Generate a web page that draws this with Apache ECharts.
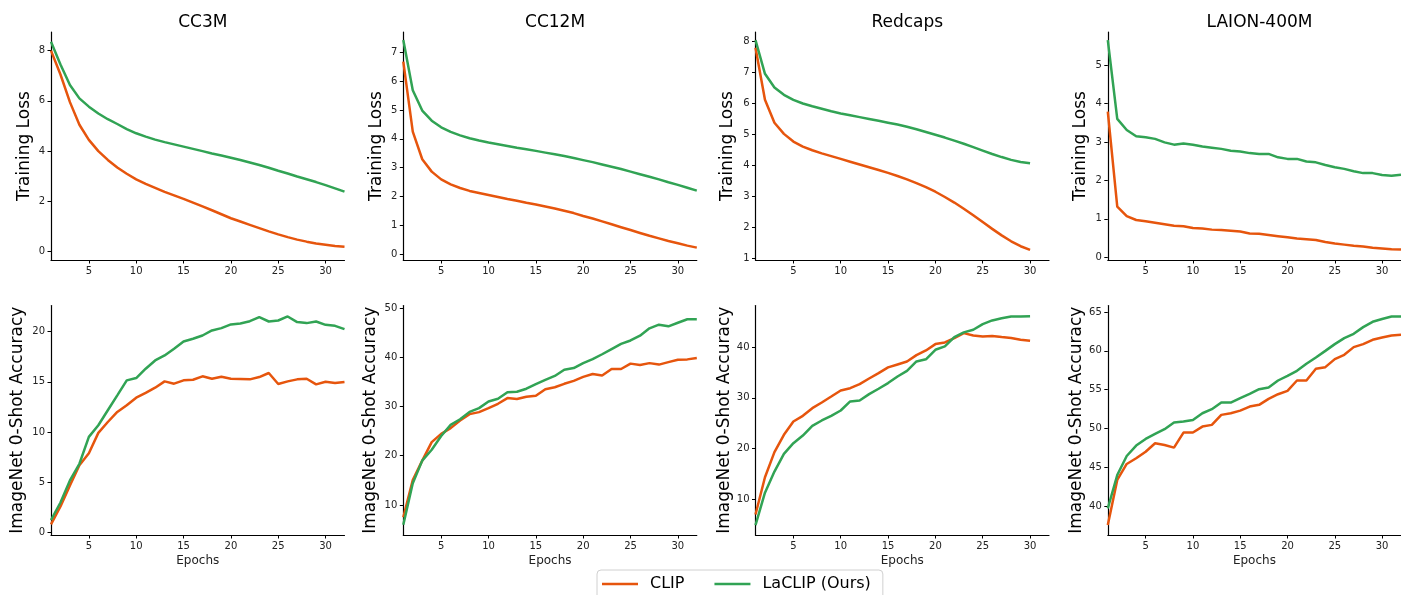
<!DOCTYPE html>
<html>
<head>
<meta charset="utf-8">
<script src="https://cdn.jsdelivr.net/npm/echarts@6/dist/echarts.min.js"></script>
<style>
html,body{margin:0;padding:0;background:#fff;}
#c{width:1401px;height:595px;}
</style>
</head>
<body>
<div id="c"></div>
<script>
const epochs = [1,2,3,4,5,6,7,8,9,10,11,12,13,14,15,16,17,18,19,20,21,22,23,24,25,26,27,28,29,30,31,32];
const titles = ['CC3M', 'CC12M', 'Redcaps', 'LAION-400M'];
const seriesNames = ['CLIP', 'LaCLIP (Ours)'];

// Training loss
const lossClipCC3M = [8.0,7.05,5.95,5.05,4.45,4.0,3.65,3.35,3.1,2.88,2.7,2.54,2.38,2.24,2.1,1.95,1.8,1.65,1.49,1.33,1.2,1.07,0.94,0.81,0.69,0.58,0.48,0.4,0.33,0.28,0.23,0.2];
const lossLaclipCC3M = [8.35,7.45,6.63,6.1,5.77,5.5,5.27,5.08,4.88,4.71,4.58,4.46,4.36,4.27,4.18,4.09,4.0,3.91,3.83,3.74,3.65,3.55,3.45,3.34,3.22,3.11,2.99,2.88,2.77,2.65,2.52,2.39];
const lossClipCC12M = [6.68,4.25,3.29,2.86,2.59,2.42,2.29,2.19,2.12,2.05,1.98,1.91,1.85,1.78,1.72,1.65,1.58,1.5,1.42,1.32,1.23,1.13,1.03,0.93,0.83,0.73,0.63,0.54,0.45,0.37,0.29,0.22];
const lossLaclipCC12M = [7.43,5.69,4.98,4.63,4.4,4.24,4.12,4.02,3.94,3.87,3.81,3.75,3.69,3.64,3.58,3.52,3.46,3.4,3.33,3.26,3.19,3.11,3.03,2.95,2.86,2.77,2.68,2.59,2.49,2.4,2.3,2.2];
const lossClipRedcaps = [7.8,6.12,5.38,5.02,4.77,4.61,4.49,4.39,4.3,4.21,4.12,4.03,3.94,3.85,3.76,3.66,3.55,3.43,3.3,3.15,2.98,2.8,2.6,2.39,2.17,1.95,1.74,1.55,1.39,1.27];
const lossLaclipRedcaps = [8.05,6.96,6.52,6.28,6.12,6.0,5.91,5.83,5.75,5.68,5.62,5.56,5.5,5.44,5.38,5.32,5.25,5.17,5.08,4.99,4.9,4.8,4.7,4.59,4.48,4.37,4.27,4.18,4.11,4.07];
const lossClipLaion = [3.79,1.32,1.07,0.97,0.94,0.9,0.86,0.82,0.81,0.76,0.75,0.72,0.71,0.69,0.67,0.62,0.61,0.58,0.55,0.52,0.49,0.47,0.45,0.4,0.36,0.33,0.3,0.28,0.25,0.23,0.21,0.2];
const lossLaclipLaion = [5.65,3.6,3.31,3.15,3.12,3.08,2.99,2.93,2.96,2.93,2.88,2.85,2.82,2.77,2.75,2.71,2.69,2.69,2.6,2.56,2.56,2.49,2.47,2.4,2.34,2.3,2.24,2.19,2.19,2.14,2.12,2.15];

// ImageNet 0-shot accuracy
const accClipCC3M = [0.83,2.6,4.7,6.7,7.9,9.92,11.0,12.0,12.66,13.42,13.9,14.41,15.04,14.81,15.14,15.2,15.54,15.3,15.5,15.3,15.27,15.24,15.47,15.87,14.78,15.04,15.24,15.3,14.74,15.0,14.88,14.98];
const accLaclipCC3M = [1.26,3.0,5.2,6.85,9.52,10.68,12.17,13.65,15.14,15.37,16.3,17.12,17.62,18.28,19.0,19.27,19.6,20.1,20.33,20.7,20.8,21.02,21.42,20.99,21.09,21.49,20.93,20.83,20.99,20.66,20.56,20.23];
const accClipCC12M = [7.5,15.08,19.0,22.75,24.44,25.6,27.15,28.44,28.85,29.66,30.54,31.7,31.5,31.97,32.17,33.5,33.9,34.6,35.2,36.0,36.6,36.27,37.6,37.6,38.7,38.4,38.8,38.5,39.0,39.5,39.56,39.83];
const accLaclipCC12M = [6.0,14.4,19.0,21.2,24.0,26.27,27.4,28.9,29.66,31.0,31.56,32.9,33.0,33.6,34.54,35.4,36.2,37.45,37.8,38.8,39.6,40.6,41.66,42.7,43.4,44.37,45.86,46.6,46.27,47.0,47.7,47.7];
const accClipRedcaps = [7.0,14.34,19.28,22.7,25.33,26.45,27.96,29.08,30.26,31.45,31.9,32.7,33.8,34.87,35.99,36.58,37.17,38.42,39.34,40.59,40.92,41.78,42.76,42.3,42.1,42.17,41.97,41.78,41.45,41.25];
const accLaclipRedcaps = [4.9,11.3,15.46,18.95,21.05,22.56,24.47,25.53,26.45,27.5,29.28,29.47,30.72,31.78,32.9,34.2,35.3,37.17,37.6,39.47,40.13,41.97,42.9,43.42,44.54,45.26,45.7,46.05,46.05,46.1];
const accClipLaion = [37.55,43.36,45.42,46.15,47.0,48.09,47.87,47.53,49.47,49.47,50.24,50.46,51.75,51.96,52.3,52.82,53.04,53.81,54.41,54.85,56.18,56.18,57.69,57.9,58.94,59.49,60.48,60.87,61.43,61.73,61.99,62.07];
const accLaclipLaion = [39.7,44.0,46.45,47.79,48.65,49.3,49.9,50.76,50.89,51.1,51.96,52.48,53.34,53.34,53.9,54.46,55.06,55.28,56.18,56.78,57.43,58.33,59.15,60.0,60.87,61.64,62.2,63.06,63.75,64.1,64.44,64.44];

// Tick labels
const xTicks = [5,10,15,20,25,30];
const lossTicks = [[0,2,4,6,8],[0,1,2,3,4,5,6,7],[1,2,3,4,5,6,7,8],[0,1,2,3,4,5]];
const accTicks = [[0,5,10,15,20],[10,20,30,40,50],[10,20,30,40],[40,45,50,55,60,65]];

const lossData = [
  [lossClipCC3M, lossLaclipCC3M],
  [lossClipCC12M, lossLaclipCC12M],
  [lossClipRedcaps, lossLaclipRedcaps],
  [lossClipLaion, lossLaclipLaion]
];
const accData = [
  [accClipCC3M, accLaclipCC3M],
  [accClipCC12M, accLaclipCC12M],
  [accClipRedcaps, accLaclipRedcaps],
  [accClipLaion, accLaclipLaion]
];

// layout / style
const colors = ['#e6550d', '#31a354'];
const FONT = 'DejaVu Sans';
const lefts = [51, 403.3, 755.5, 1107.8];
const panelW = 293.5;
const rows = [{top: 32, height: 228}, {top: 305.5, height: 229.5}];
const lossRange = [[-0.33, 8.74], [-0.21, 7.71], [0.945, 8.31], [-0.07, 5.86]];
const accRange = [[-0.23, 22.58], [3.9, 50.5], [2.95, 48.2], [36.26, 65.85]];
const lossGap = [17.5, 18, 19, 18.5];
const accGap = [24.5, 24.5, 20.5, 22.5];

const grid = [], xAxis = [], yAxis = [], series = [], title = [];
for (let r = 0; r < 2; r++) {
  for (let c = 0; c < 4; c++) {
    const i = r * 4 + c;
    grid.push({left: lefts[c], top: rows[r].top, width: panelW, height: rows[r].height, containLabel: false});
    xAxis.push({
      gridIndex: i, type: 'value', min: 1, max: 32,
      axisLine: {show: true, onZero: false, lineStyle: {color: '#000', width: 1.2}},
      axisTick: {show: true, length: 3.5, customValues: xTicks, lineStyle: {color: '#000', width: 1}},
      axisLabel: {customValues: xTicks, fontSize: 10, color: '#222', margin: 6, fontFamily: FONT},
      splitLine: {show: false},
      name: r === 1 ? 'Epochs' : '',
      nameLocation: 'middle', nameGap: 19.5,
      nameTextStyle: {fontSize: 12, color: '#222', fontFamily: FONT}
    });
    const rng = r === 0 ? lossRange[c] : accRange[c];
    const ticks = r === 0 ? lossTicks[c] : accTicks[c];
    yAxis.push({
      gridIndex: i, type: 'value', min: rng[0], max: rng[1],
      axisLine: {show: true, onZero: false, lineStyle: {color: '#000', width: 1.2}},
      axisTick: {show: true, length: 3.5, customValues: ticks, lineStyle: {color: '#000', width: 1}},
      axisLabel: {customValues: ticks, fontSize: 10, color: '#222', margin: 6, fontFamily: FONT},
      splitLine: {show: false},
      name: r === 0 ? 'Training Loss' : 'ImageNet 0-Shot Accuracy',
      nameLocation: 'middle',
      nameGap: r === 0 ? lossGap[c] : accGap[c],
      nameTextStyle: {fontSize: 17, color: '#000', fontFamily: FONT}
    });
    const pair = r === 0 ? lossData[c] : accData[c];
    for (let s = 0; s < 2; s++) {
      series.push({
        name: seriesNames[s], type: 'line',
        xAxisIndex: i, yAxisIndex: i,
        data: pair[s].map((v, k) => [epochs[k], v]),
        symbol: 'none', showSymbol: false, smooth: false,
        lineStyle: {color: colors[s], width: 2.5},
        itemStyle: {color: colors[s]},
        emphasis: {disabled: true},
        animation: false
      });
    }
  }
}
for (let c = 0; c < 4; c++) {
  title.push({
    text: titles[c], left: lefts[c] + panelW / 2, top: 9, textAlign: 'center',
    textStyle: {fontSize: 17, fontWeight: 'normal', color: '#000', fontFamily: FONT}
  });
}

const chart = echarts.init(document.getElementById('c'), null, {renderer: 'canvas'});
chart.setOption({
  animation: false,
  backgroundColor: '#fff',
  title: title,
  grid: grid,
  xAxis: xAxis,
  yAxis: yAxis,
  series: series,
  legend: {
    data: seriesNames.map((n, k) => ({name: n, icon: 'rect', itemStyle: {color: colors[k]}})),
    left: 597, top: 570,
    itemWidth: 36, itemHeight: 2.5, itemGap: 30,
    borderColor: '#d0d0d0', borderWidth: 1, borderRadius: 4,
    padding: [6, 12, 9, 5],
    textStyle: {fontSize: 16, color: '#000', fontFamily: FONT, padding: [0, 0, 0, 7]}
  }
});
</script>
</body>
</html>
